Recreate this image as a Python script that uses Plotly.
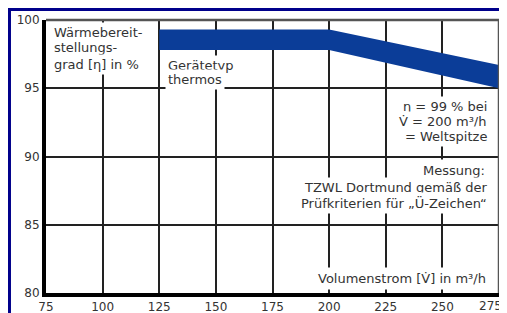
import plotly.graph_objects as go

# Data
volumenstrom = [125, 200, 275]
eta_upper = [99.3, 99.3, 96.7]
eta_lower = [97.8, 97.8, 95.0]
x_ticks = [75, 100, 125, 150, 175, 200, 225, 250, 275]
x_tick_labels = ["75", "100", "125", "150", "175", "200", "225", "250", "275"]
y_ticks = [80, 85, 90, 95, 100]
y_tick_labels = ["80", "85", "90", "95", "100"]

BLUE = "#0b3d98"
FONT = "DejaVu Sans"
TXT = "#333333"

fig = go.Figure()
fig.add_trace(go.Scatter(x=volumenstrom, y=eta_lower, mode="lines",
                         line=dict(width=0, color=BLUE), hoverinfo="skip", showlegend=False))
fig.add_trace(go.Scatter(x=volumenstrom, y=eta_upper, mode="lines", fill="tonexty",
                         fillcolor=BLUE, line=dict(width=0, color=BLUE),
                         hoverinfo="skip", showlegend=False))

# the last x tick label is drawn as an annotation so it can sit inside the window edge
fig.update_xaxes(range=[75, 275], tickvals=x_ticks, ticktext=x_tick_labels[:-1] + [""],
                 showgrid=True, gridcolor="#222222", gridwidth=1.5, zeroline=False,
                 showline=True, linecolor="black", linewidth=4, ticks="",
                 ticklabeloverflow="allow", automargin=False,
                 tickfont=dict(family=FONT, size=12, color=TXT))
fig.update_yaxes(range=[80, 100], tickvals=y_ticks, ticktext=y_tick_labels,
                 showgrid=True, gridcolor="#222222", gridwidth=1.5, zeroline=False,
                 showline=True, linecolor="black", linewidth=4, ticks="",
                 ticklabeloverflow="allow", automargin=False,
                 tickfont=dict(family=FONT, size=12, color=TXT))

shapes = [
    dict(type="line", xref="paper", yref="paper", x0=0, x1=1, y0=1, y1=1,
         line=dict(color="#555555", width=2.5)),
    dict(type="line", xref="paper", yref="paper", x0=1, x1=1, y0=0, y1=1,
         line=dict(color="#555555", width=2.5)),
    dict(type="line", xref="paper", yref="paper", x0=-0.0806, x1=-0.0806, y0=1.045, y1=-0.2,
         line=dict(color="#00008b", width=3)),
    dict(type="line", xref="paper", yref="paper", x0=-0.0835, x1=1.1, y0=1.0385, y1=1.0385,
         line=dict(color="#00008b", width=3)),
]

def ann(text, x, y, xanchor, pad=2):
    return dict(text=text, x=x, y=y, xref="x", yref="y", xanchor=xanchor, yanchor="middle",
                showarrow=False, bgcolor="white", borderpad=pad,
                font=dict(family=FONT, size=13, color=TXT))

annotations = [
    ann("Wärmebereit-", 77.0, 99.12, "left"),
    ann("stellungs-", 77.0, 97.95, "left"),
    ann("grad [η] in %", 77.0, 96.75, "left"),
    ann("Gerätetyp", 127.4, 96.70, "left"),
    ann("thermos", 127.4, 95.62, "left"),
    ann("η = 99 % bei", 271.0, 93.65, "right"),
    ann("V̇ = 200 m³/h", 271.0, 92.55, "right"),
    ann("= Weltspitze", 271.0, 91.45, "right"),
    ann("Messung:", 270.6, 89.0, "right", 3),
    ann("TZWL Dortmund gemäß der", 271.0, 87.74, "right"),
    ann("Prüfkriterien für „Ü-Zeichen“", 271.0, 86.57, "right"),
    ann("Volumenstrom [V̇] in m³/h", 271.0, 81.08, "right", 3),
    dict(text=x_tick_labels[-1], x=x_ticks[-1], y=0, xref="x", yref="paper",
         xanchor="right", yanchor="middle", xshift=4, yshift=-13, showarrow=False,
         borderpad=0, font=dict(family=FONT, size=12, color=TXT)),
]

# The page body has an 8px margin, so the figure is offset by 8px.
fig.update_layout(width=499, height=305, margin=dict(l=38, r=8, t=12, b=20, autoexpand=False),
                  paper_bgcolor="white", plot_bgcolor="white",
                  shapes=shapes, annotations=annotations, showlegend=False)

fig.write_html("out.html")
